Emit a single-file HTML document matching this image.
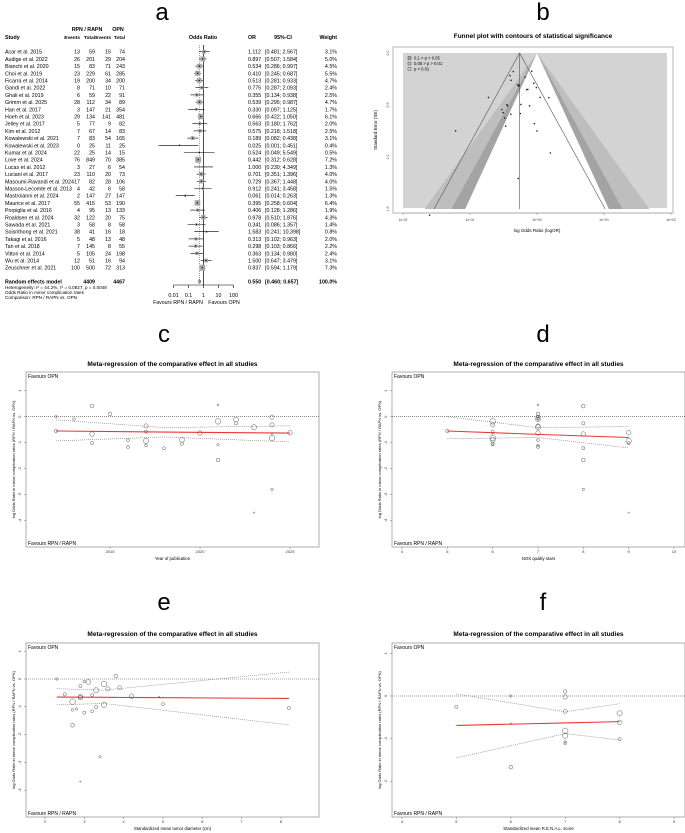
<!DOCTYPE html>
<html><head><meta charset="utf-8"><style>
html,body{margin:0;padding:0;background:#fff;}
svg{display:block;font-family:"Liberation Sans",Arial,sans-serif;}
</style></head><body>
<svg id="fig" width="685" height="833" viewBox="0 0 685 833" xmlns="http://www.w3.org/2000/svg">
<rect x="0" y="0" width="685" height="833" fill="#fff"/>
<text x="162" y="20" font-size="24" text-anchor="middle">a</text>
<text x="543" y="20" font-size="24" text-anchor="middle">b</text>
<text x="164" y="342" font-size="24" text-anchor="middle">c</text>
<text x="543" y="342" font-size="24" text-anchor="middle">d</text>
<text x="164" y="610" font-size="24" text-anchor="middle">e</text>
<text x="543" y="610" font-size="24" text-anchor="middle">f</text>
<g id="forest"></g>
<g id="funnel"></g>
<g id="regc"></g>
<g id="regd"></g>
<g id="rege"></g>
<g id="regf"></g>
</svg>
<script>
const studies = ["Acar et al. 2015","Audige et al. 2022","Bianchi et al. 2020","Choi et al. 2019","Ficarra et al. 2014","Gandi et al. 2022","Ghali et al. 2019","Grimm et al. 2025","Han et al. 2017","Hoeh et al. 2023","Jelley et al. 2017","Kim et al. 2012","Kowalewski et al. 2021","Kowalewski et al. 2023","Kumar et al. 2024","Love et al. 2024","Lucas et al. 2012","Luciani et al. 2017","Masoumi-Ravandi et al. 2024","Masson-Lecomte et al. 2013","Mastroianni et al. 2024","Maurice et al. 2017","Porpiglia et al. 2016","Roaldsen et al. 2024","Sawada et al. 2021","Soisrithong et al. 2021","Takagi et al. 2016","Tan et al. 2018","Vittori et al. 2014","Wu et al. 2014","Zeuschner et al. 2021"];
const years = [2015,2022,2020,2019,2014,2022,2019,2025,2017,2023,2017,2012,2021,2023,2024,2024,2012,2017,2024,2013,2024,2017,2016,2024,2021,2021,2016,2018,2014,2014,2021];
const ev1 = [13,26,15,23,19,8,6,28,3,29,5,7,7,0,22,76,3,23,17,4,2,55,4,32,3,38,5,7,5,12,100];
const tot1 = [59,201,83,229,200,71,59,112,147,134,77,67,83,25,25,849,27,110,82,42,147,415,95,122,58,41,48,145,105,51,500];
const ev2 = [15,29,71,61,34,10,22,34,21,141,9,14,54,11,14,70,6,20,28,6,27,53,13,20,8,16,13,8,24,16,72];
const tot2 = [74,204,243,285,200,71,91,89,354,481,82,83,165,25,15,385,54,73,106,58,147,190,133,75,58,18,48,55,198,94,313];
const orv = [1.112,0.897,0.534,0.410,0.513,0.775,0.355,0.539,0.330,0.666,0.563,0.575,0.189,0.025,0.524,0.442,1.000,0.701,0.729,0.912,0.061,0.395,0.406,0.978,0.341,1.583,0.313,0.298,0.363,1.500,0.837];
const lo = [0.481,0.507,0.286,0.245,0.281,0.287,0.134,0.295,0.097,0.422,0.180,0.218,0.082,0.001,0.049,0.312,0.230,0.351,0.367,0.241,0.014,0.258,0.128,0.510,0.086,0.241,0.102,0.103,0.134,0.647,0.594];
const hi = [2.567,1.584,0.997,0.687,0.933,2.093,0.938,0.987,1.125,1.050,1.762,1.518,0.438,0.451,5.549,0.628,4.349,1.396,1.448,3.458,0.263,0.604,1.286,1.876,1.357,10.398,0.963,0.866,0.980,3.479,1.179];
const wt = [3.1,5.0,4.5,5.5,4.7,2.4,2.5,4.7,1.7,6.1,2.0,2.5,3.1,0.4,0.5,7.2,1.3,4.0,4.0,1.5,1.3,6.4,1.9,4.3,1.4,0.8,2.0,2.2,2.4,3.1,7.3];
const pooled = [0.550,0.460,0.657];
const forestTicks = [0.01,0.1,1,10,100];
const forestTickLabels = ["0.01","0.1","1","10","100"];
const nos = [7,7,7,6,8,8,6,9,7,7,6,5,8,9,6,6,7,7,6,7,8,9,7,7,6,7,7,8,9,8,6];
const diam = [3.8,3.1,2.9,null,2.9,2.9,8.2,4.2,2.7,3.3,3.2,2.5,2.7,2.9,4.9,2.7,2.3,3.6,3.9,3.0,3.4,3.5,5.0,null,2.8,null,3.2,3.0,3.3,null,3.5];
const renal = [7,null,null,null,null,5,null,8,7,8,null,null,6,null,6,7,6,7,null,null,null,7,null,7,7,null,null,null,8,null,null];
const fitC_x = [2012,2018,2025]; const fitC_y = [-0.55,-0.59,-0.63]; const fitC_up = [-0.12,-0.42,-0.35]; const fitC_lo = [-0.93,-0.78,-0.97];
const fitD_x = [5,7,9]; const fitD_y = [-0.55,-0.68,-0.80]; const fitD_up = [0.0,-0.42,-0.38]; const fitD_lo = [-0.85,-0.80,-1.20];
const fitE_x = [2.3,3.5,8.2]; const fitE_y = [-0.65,-0.66,-0.70]; const fitE_up = [-0.35,-0.40,0.25]; const fitE_lo = [-0.93,-0.88,-1.65];
const fitF_x = [5,7,8]; const fitF_y = [-0.69,-0.63,-0.60]; const fitF_up = [0.05,-0.37,-0.18]; const fitF_lo = [-1.45,-0.88,-1.03];

const NS="http://www.w3.org/2000/svg";
function mk(parent,tag,attrs,txt){const e=document.createElementNS(NS,tag);for(const k in attrs)e.setAttribute(k,attrs[k]);if(txt!==undefined)e.textContent=txt;parent.appendChild(e);return e;}

(function(){
const g=document.getElementById('forest');
const fx=v=>203.5+15*Math.log10(v);
const rowY=i=>51.7+i*7.2;
const fs=5.3;
let t;
t=mk(g,'text',{x:87,y:31,'font-size':fs,'font-weight':'bold','text-anchor':'middle'},'RPN / RAPN');


t=mk(g,'text',{x:118,y:31,'font-size':fs,'font-weight':'bold','text-anchor':'middle'},'OPN');


const hdr=[[5,'Study','start'],[80,'Events','end'],[95,'Total','end'],[111,'Events','end'],[125,'Total','end'],[203,'Odds Ratio','middle'],[248,'OR','start'],[283,'95%-CI','middle'],[337,'Weight','end']];
hdr.forEach(h=>{const e=mk(g,'text',{x:h[0],y:39,'font-size':(h[1]==='Events'||h[1]==='Total')?4.8:fs,'font-weight':'bold','text-anchor':h[2]},h[1]);

});
mk(g,'line',{x1:fx(1),y1:45,x2:fx(1),y2:285,stroke:'#000','stroke-width':0.7});
mk(g,'line',{x1:fx(pooled[0]),y1:45,x2:fx(pooled[0]),y2:280,stroke:'#666','stroke-width':0.6,'stroke-dasharray':'1,1'});
studies.forEach((s,i)=>{
  const y=rowY(i);
  const row=mk(g,'g',{});
  
  
  mk(row,'text',{x:5,y:y+2,'font-size':fs},s);
  mk(row,'text',{x:80,y:y+2,'font-size':fs,'text-anchor':'end'},ev1[i]);
  mk(row,'text',{x:95,y:y+2,'font-size':fs,'text-anchor':'end'},tot1[i]);
  mk(row,'text',{x:111,y:y+2,'font-size':fs,'text-anchor':'end'},ev2[i]);
  mk(row,'text',{x:125,y:y+2,'font-size':fs,'text-anchor':'end'},tot2[i]);
  mk(row,'text',{x:248,y:y+2,'font-size':fs},orv[i].toFixed(3));
  mk(row,'text',{x:265,y:y+2,'font-size':fs},'['+lo[i].toFixed(3)+'; '+hi[i].toFixed(3)+']');
  mk(row,'text',{x:337,y:y+2,'font-size':fs,'text-anchor':'end'},wt[i].toFixed(1)+'%');
  const ci=mk(row,'line',{x1:fx(lo[i]),y1:y,x2:fx(hi[i]),y2:y,stroke:'#000','stroke-width':0.6});
  
  
  const sz=2.2*Math.sqrt(wt[i]);
  const sq=mk(row,'rect',{x:fx(orv[i])-sz/2,y:y-sz/2,width:sz,height:sz,fill:'#a8a8a8'});
  
  
  mk(row,'rect',{x:fx(orv[i])-0.6,y:y-0.6,width:1.2,height:1.2,fill:'#000'});
});
const yR=281.5;
t=mk(g,'text',{x:5,y:yR+2,'font-size':fs,'font-weight':'bold'},'Random effects model');


mk(g,'text',{x:95,y:yR+2,'font-size':fs,'font-weight':'bold','text-anchor':'end'},tot1.reduce((a,b)=>a+b,0));
mk(g,'text',{x:125,y:yR+2,'font-size':fs,'font-weight':'bold','text-anchor':'end'},tot2.reduce((a,b)=>a+b,0));
mk(g,'text',{x:248,y:yR+2,'font-size':fs,'font-weight':'bold'},pooled[0].toFixed(3));
mk(g,'text',{x:265,y:yR+2,'font-size':fs,'font-weight':'bold'},'['+pooled[1].toFixed(3)+'; '+pooled[2].toFixed(3)+']');
mk(g,'text',{x:337,y:yR+2,'font-size':fs,'font-weight':'bold','text-anchor':'end'},'100.0%');
const dm=mk(g,'polygon',{points:`${fx(pooled[1])},${yR} ${fx(pooled[0])},${yR-2} ${fx(pooled[2])},${yR} ${fx(pooled[0])},${yR+2}`,fill:'#bbb',stroke:'#000','stroke-width':0.5});


mk(g,'text',{x:5,y:289,'font-size':4.6},'Heterogeneity: I² = 44.2%, τ² = 0.0827, p = 0.0048');
mk(g,'text',{x:5,y:294,'font-size':4.6},'Odds Ratio in minor complication rates');
mk(g,'text',{x:5,y:299,'font-size':4.6},'Comparison: RPN / RAPN vs. OPN');
const ax=mk(g,'g',{});


mk(ax,'line',{x1:fx(forestTicks[0]),y1:285,x2:fx(forestTicks[forestTicks.length-1]),y2:285,stroke:'#000','stroke-width':0.6});
forestTicks.forEach((v,i)=>{mk(ax,'line',{x1:fx(v),y1:285,x2:fx(v),y2:288,stroke:'#000','stroke-width':0.6});
 mk(ax,'text',{x:fx(v),y:297,'font-size':5.3,'text-anchor':'middle'},forestTickLabels[i]);});
mk(ax,'text',{x:178,y:304,'font-size':5.2,'text-anchor':'middle'},'Favours RPN / RAPN');
mk(ax,'text',{x:224,y:304,'font-size':5.2,'text-anchor':'middle'},'Favours OPN');
})();

(function(){
const g=document.getElementById('funnel');
const fx=v=>537+67*Math.log10(v);
const fy=se=>53+104*se;
const seArr=lo.map((l,i)=>(Math.log(hi[i])-Math.log(l))/3.92);
const t=mk(g,'text',{x:533,y:38,'font-size':6.5,'font-weight':'bold','text-anchor':'middle'},'Funnel plot with contours of statistical significance');


mk(g,'rect',{x:393,y:47,width:280,height:166,fill:'none',stroke:'#999','stroke-width':0.7});
mk(g,'rect',{x:403,y:53,width:264,height:155,fill:'#d3d3d3'});
const semax=1.5;
const band=(z,c)=>{const w=z*semax/Math.LN10*67;const yb=fy(semax);
 mk(g,'polygon',{points:`537,53 ${537-w},${yb} ${537+w},${yb}`,fill:c});};
band(2.576,'#bebebe');band(1.96,'#a3a3a3');band(1.645,'#fff');
const pl=fx(pooled[0]);const w2=1.96*semax/Math.LN10*67;
mk(g,'line',{x1:pl,y1:53,x2:pl,y2:fy(semax),stroke:'#555','stroke-width':0.6});
mk(g,'polyline',{points:`${pl-w2},${fy(semax)} ${pl},53 ${pl+w2},${fy(semax)}`,fill:'none',stroke:'#555','stroke-width':0.6});
orv.forEach((v,i)=>{const p=mk(g,'circle',{cx:fx(v),cy:fy(seArr[i]),r:0.8,fill:'#222'});
 
 });
const xt=[0.01,0.1,1,10,100],xl=['1e-02','1e-01','1e+00','1e+01','1e+02'];
mk(g,'line',{x1:fx(0.01),y1:213,x2:fx(100),y2:213,stroke:'#999','stroke-width':0.6});
xt.forEach((v,i)=>{mk(g,'line',{x1:fx(v),y1:213,x2:fx(v),y2:215,stroke:'#777','stroke-width':0.5});
 mk(g,'text',{x:fx(v),y:221,'font-size':3.5,'text-anchor':'middle',fill:'#444'},xl[i]);});
[0,0.5,1,1.5].forEach(v=>{mk(g,'text',{x:389,y:fy(v),'font-size':3.5,'text-anchor':'middle',fill:'#444',transform:`rotate(-90 389 ${fy(v)})`},v.toFixed(1));});
mk(g,'text',{x:537,y:232,'font-size':4.5,'text-anchor':'middle'},'log Odds Ratio (logOR)');
mk(g,'text',{x:377,y:130,'font-size':4.5,'text-anchor':'middle',transform:'rotate(-90 377 130)'},'Standard Error (SE)');
const lg=[['#a3a3a3','0.1 > p > 0.05'],['#bebebe','0.05 > p > 0.01'],['#d3d3d3','p < 0.01']];
lg.forEach((l,i)=>{const y=59+i*5.5;mk(g,'rect',{x:408,y:y-2.5,width:3,height:3,fill:l[0],stroke:'#333','stroke-width':0.4});
 const e=mk(g,'text',{x:414,y:y+0.5,'font-size':4.2},l[1]);
 
 });
})();

function reg(id,box,xr,xpx,y0,ypu,xvals,ticks,tickLabels,xlabel,titleY,fx_,fy_,fup,flo){
 const g=document.getElementById(id);
 const [bx,by,bw,bh]=box;
 const X=v=>xpx[0]+(v-xr[0])*(xpx[1]-xpx[0])/(xr[1]-xr[0]);
 const Y=v=>y0-v*ypu;
 const t=mk(g,'text',{x:bx+bw/2,y:titleY,'font-size':6.5,'font-weight':'bold','text-anchor':'middle'},'Meta-regression of the comparative effect in all studies');
 
 
 mk(g,'rect',{x:bx,y:by,width:bw,height:bh,fill:'none',stroke:'#999','stroke-width':0.8});
 mk(g,'line',{x1:bx,y1:Y(0),x2:bx+bw,y2:Y(0),stroke:'#444','stroke-width':0.6,'stroke-dasharray':'1,1'});
 [1,0,-1,-2,-3,-4].forEach(v=>{const y=Y(v);if(y<by+2||y>by+bh-2)return;
   mk(g,'line',{x1:bx-2,y1:y,x2:bx,y2:y,stroke:'#777','stroke-width':0.5});
   mk(g,'text',{x:bx-5,y:y,'font-size':4,'text-anchor':'middle',fill:'#333',transform:`rotate(-90 ${bx-5} ${y})`},v);});
 ticks.forEach((v,i)=>{mk(g,'line',{x1:X(v),y1:by+bh,x2:X(v),y2:by+bh+2,stroke:'#777','stroke-width':0.5});
   mk(g,'text',{x:X(v),y:by+bh+6,'font-size':4,'text-anchor':'middle',fill:'#333'},tickLabels[i]);});
 mk(g,'text',{x:bx+bw/2,y:by+bh+13,'font-size':4.3,'text-anchor':'middle'},xlabel);
 const yc=by+bh/2;
 mk(g,'text',{x:bx-11,y:yc,'font-size':4,'text-anchor':'middle',transform:`rotate(-90 ${bx-11} ${yc})`},'log Odds Ratio in minor complication rates (RPN / RAPN vs. OPN)');
 mk(g,'text',{x:bx+2,y:by+6,'font-size':5},'Favours OPN');
 mk(g,'text',{x:bx+2,y:by+bh-2,'font-size':5},'Favours RPN / RAPN');
 const pts=(xs,ys)=>xs.map((x,i)=>X(x)+','+Y(ys[i])).join(' ');
 mk(g,'polyline',{points:pts(fx_,fup),fill:'none',stroke:'#777','stroke-width':0.6,'stroke-dasharray':'1,1'});
 mk(g,'polyline',{points:pts(fx_,flo),fill:'none',stroke:'#777','stroke-width':0.6,'stroke-dasharray':'1,1'});
 const rl=mk(g,'polyline',{points:pts(fx_,fy_),fill:'none',stroke:'#e83838','stroke-width':1.1});
 
 
 orv.forEach((o,i)=>{if(xvals[i]===null)return;
   const c=mk(g,'circle',{cx:X(xvals[i]),cy:Y(Math.log(o)),r:Math.max(0.6,1.05*Math.sqrt(wt[i])),fill:'none',stroke:'#555','stroke-width':0.5});
   
   });
}
reg('regc',[26,372,293,175],[2015,2025],[110,290],416.7,26,years,[2015,2020,2025],['2015','2020','2025'],'Year of publication',366,fitC_x,fitC_y,fitC_up,fitC_lo);
reg('regd',[392,372,293,175],[4,10],[402,674],416.7,26,nos,[4,5,6,7,8,9,10],['4','5','6','7','8','9','10'],'NOS quality stars',366,fitD_x,fitD_y,fitD_up,fitD_lo);
reg('rege',[26,643,293,174],[2,8],[45,281],679,27.8,diam,[2,3,4,5,6,7,8],['2','3','4','5','6','7','8'],'Standardized mean tumor diameter (cm)',636,fitE_x,fitE_y,fitE_up,fitE_lo);
reg('regf',[392,643,293,174],[4,9],[402,674],696,42.7,renal,[4,5,6,7,8,9],['4','5','6','7','8','9'],'Standardized mean R.E.N.A.L. score',636,fitF_x,fitF_y,fitF_up,fitF_lo);
</script>
</body></html>
